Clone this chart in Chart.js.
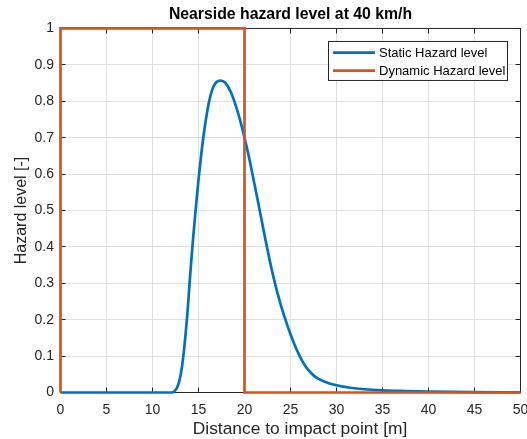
<!DOCTYPE html>
<html><head><meta charset="utf-8">
<style>html,body{margin:0;padding:0;background:#fff;overflow:hidden}</style>
<script src="https://cdn.jsdelivr.net/npm/chart.js@4/dist/chart.umd.min.js"></script>
</head><body>
<canvas id="c" width="527" height="439"></canvas>
<script>
const distance = [0, 5, 10, 12, 12.3, 12.6, 12.9, 13.2, 13.5, 13.8, 14.1, 14.4, 14.7, 15.0, 15.3, 15.6, 15.9, 16.2, 16.5, 16.8, 17.1, 17.4, 17.9, 18.5, 19.0, 19.5, 20.0, 20.5, 21.0, 21.5, 22.0, 22.5, 23.0, 23.5, 24.0, 24.5, 25.0, 25.5, 26.0, 26.5, 27.0, 27.5, 28.0, 29.0, 30.0, 31.5, 33, 35, 37.5, 40, 45, 50];
const staticHazard = [0, 0, 0, 0, 0.002, 0.01, 0.03, 0.07, 0.135, 0.22, 0.325, 0.42, 0.505, 0.585, 0.655, 0.715, 0.765, 0.805, 0.832, 0.848, 0.855, 0.857, 0.851, 0.826, 0.792, 0.750, 0.700, 0.645, 0.583, 0.520, 0.455, 0.392, 0.333, 0.281, 0.236, 0.196, 0.160, 0.128, 0.100, 0.077, 0.060, 0.047, 0.038, 0.027, 0.020, 0.013, 0.009, 0.006, 0.004, 0.0025, 0.001, 0.0005];
const dynamicDistance = [0, 0, 20, 20, 50];
const dynamicHazard = [0, 1, 1, 0, 0];
const xTicks = [0, 5, 10, 15, 20, 25, 30, 35, 40, 45, 50];
const yTicks = [0, 0.1, 0.2, 0.3, 0.4, 0.5, 0.6, 0.7, 0.8, 0.9, 1];
const xTickLabels = ['0', '5', '10', '15', '20', '25', '30', '35', '40', '45', '50'];
const yTickLabels = ['0', '0.1', '0.2', '0.3', '0.4', '0.5', '0.6', '0.7', '0.8', '0.9', '1'];
const seriesNames = ['Static Hazard level', 'Dynamic Hazard level'];
const chartTitle = 'Nearside hazard level at 40 km/h';
const xTitle = 'Distance to impact point [m]';
const yTitle = 'Hazard level [-]';

const FONT = '"Liberation Sans", Arial, Helvetica, sans-serif';
const AXC = '#262626';
const BLUE = '#0072BD', ORANGE = '#D95319';

const toPts = (xs, ys) => xs.map((x, i) => ({x, y: ys[i]}));

const boxPlugin = {
  id: 'mbox',
  beforeDatasetsDraw(chart) {
    const {ctx, chartArea: a, scales: {x, y}} = chart;
    ctx.save();
    ctx.strokeStyle = AXC; ctx.lineWidth = 1;
    ctx.strokeRect(a.left, a.top, a.right - a.left, a.bottom - a.top);
    ctx.beginPath();
    const L = 5;
    xTicks.forEach(v => {
      const px = Math.round(x.getPixelForValue(v) - 0.5) + 0.5;
      ctx.moveTo(px, a.bottom); ctx.lineTo(px, a.bottom - L);
      ctx.moveTo(px, a.top); ctx.lineTo(px, a.top + L);
    });
    yTicks.forEach(v => {
      const py = Math.round(y.getPixelForValue(v) - 0.5) + 0.5;
      ctx.moveTo(a.left, py); ctx.lineTo(a.left + L, py);
      ctx.moveTo(a.right, py); ctx.lineTo(a.right - L, py);
    });
    ctx.stroke();
    ctx.restore();
  },
  afterDraw(chart) {
    const {ctx, chartArea: a} = chart;
    ctx.save();
    ctx.font = '17.4px ' + FONT;
    ctx.fillStyle = AXC;
    ctx.textAlign = 'center';
    ctx.textBaseline = 'middle';
    ctx.fillText(xTitle, (a.left + a.right) / 2 + 9.5, 429.5);
    ctx.restore();
  }
};

const legendPlugin = {
  id: 'mlegend',
  afterDraw(chart) {
    const {ctx, chartArea: a} = chart;
    const ds = chart.data.datasets;
    const w = 179, h = 39;
    const bx = a.right - 13 - w, by = a.top + 13;
    ctx.save();
    ctx.fillStyle = '#fff';
    ctx.fillRect(bx, by, w, h);
    ctx.strokeStyle = AXC; ctx.lineWidth = 1;
    ctx.strokeRect(bx, by, w, h);
    ctx.font = '13px ' + FONT;
    ctx.textBaseline = 'middle';
    ctx.textAlign = 'left';
    ds.forEach((d, i) => {
      const ry = by + 11.2 + i * 18;
      ctx.strokeStyle = d.borderColor; ctx.lineWidth = 2.7;
      ctx.beginPath(); ctx.moveTo(bx + 4.5, ry); ctx.lineTo(bx + 46.5, ry); ctx.stroke();
      ctx.fillStyle = '#000';
      ctx.fillText(d.label, bx + 50.5, ry + 0.5);
    });
    ctx.restore();
  }
};

new Chart(document.getElementById('c'), {
  type: 'scatter',
  data: {
    datasets: [
      {label: seriesNames[0], data: toPts(distance, staticHazard), showLine: true, borderColor: BLUE, backgroundColor: BLUE,
       borderWidth: 2.7, pointRadius: 0, cubicInterpolationMode: 'monotone', clip: false, order: 1},
      {label: seriesNames[1], data: toPts(dynamicDistance, dynamicHazard), showLine: true, borderColor: ORANGE, backgroundColor: ORANGE,
       borderWidth: 2.7, pointRadius: 0, tension: 0, clip: false, order: 0, borderJoinStyle: 'miter'}
    ]
  },
  options: {
    responsive: false, animation: false, devicePixelRatio: 1,
    layout: {padding: {left: 0, right: 6.5, top: 0, bottom: 0}},
    plugins: {
      legend: {display: false},
      tooltip: {enabled: false},
      title: {display: true, text: chartTitle, fullSize: false, color: '#000',
        font: {family: FONT, size: 15.8, weight: 'bold'}, padding: {top: 5.3, bottom: 4.2}}
    },
    scales: {
      x: {
        type: 'linear', min: 0, max: 50,
        afterBuildTicks: s => { s.ticks = xTicks.map(v => ({value: v})); },
        afterFit: s => { s.height = 46.5; s.paddingLeft = 0; s.paddingRight = 0; },
        grid: {color: '#dfdfdf', drawTicks: false},
        border: {display: false},
        ticks: {color: AXC, font: {family: FONT, size: 14}, padding: 9, maxRotation: 0, autoSkip: false,
          callback: (v, i) => xTickLabels[i]},
        title: {display: false, text: xTitle}
      },
      y: {
        type: 'linear', min: 0, max: 1,
        afterBuildTicks: s => { s.ticks = yTicks.map(v => ({value: v})); },
        afterFit: s => { s.width = 60.5; s.paddingTop = 0; s.paddingBottom = 0; },
        grid: {color: '#dfdfdf', drawTicks: false},
        border: {display: false},
        ticks: {color: AXC, font: {family: FONT, size: 14}, padding: 6.5, autoSkip: false,
          callback: (v, i) => yTickLabels[i]},
        title: {display: true, text: yTitle, color: AXC, font: {family: FONT, size: 16}, padding: {top: 12, bottom: 0}}
      }
    }
  },
  plugins: [boxPlugin, legendPlugin]
});
</script>
</body></html>
